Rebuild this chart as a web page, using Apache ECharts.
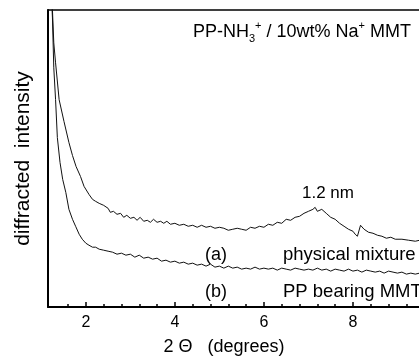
<!DOCTYPE html>
<html>
<head>
<meta charset="utf-8">
<script src="https://cdn.jsdelivr.net/npm/echarts@6/dist/echarts.min.js"></script>
<style>
html,body{margin:0;padding:0;background:#fff}
#chart{width:419px;height:358px}
</style>
</head>
<body>
<div id="chart"></div>
<script>
// 2 theta (degrees) and intensity (arb. units)
var xA = [1.22,1.25,1.28,1.32,1.40,1.51,1.62,1.70,1.78,1.88,1.96,2.07,2.15,2.22,2.30,2.40,2.50,2.55,2.62,2.70,2.78,2.85,2.92,3.00,3.08,3.15,3.22,3.30,3.38,3.45,3.52,3.60,3.68,3.75,3.82,3.90,4.00,4.10,4.20,4.30,4.40,4.50,4.60,4.70,4.80,4.90,5.00,5.10,5.20,5.30,5.40,5.50,5.60,5.70,5.80,5.90,6.00,6.10,6.20,6.30,6.40,6.50,6.60,6.70,6.80,6.90,7.00,7.10,7.15,7.20,7.30,7.40,7.50,7.60,7.70,7.80,7.90,8.00,8.05,8.10,8.17,8.25,8.35,8.45,8.55,8.65,8.75,8.85,8.95,9.10,9.25,9.40,9.50,9.60];
var yA = [330,298,265,245,208,186,165,152,141,131,121,113,108,106,104,102,99,95,96,93,94,90,92,89,90,87,90,86,87,85,88,85,86,84,86,83,84,82,83,81,82,80,82,80,81,79,80,79,77,78,79,78,77,80,79,81,80,83,82,85,84,88,87,90,91,94,96,98,100,96,98,94,90,88,84,81,78,76,73,71,82,78,75,74,72,71,69,70,68,68,67,66,67,67];

var xB = [1.22,1.25,1.28,1.32,1.36,1.42,1.48,1.55,1.62,1.70,1.77,1.85,1.92,2.00,2.07,2.15,2.22,2.30,2.40,2.50,2.60,2.70,2.80,2.90,3.00,3.10,3.20,3.30,3.40,3.50,3.60,3.70,3.80,3.90,4.00,4.10,4.20,4.30,4.40,4.50,4.60,4.70,4.80,4.90,5.00,5.10,5.20,5.30,5.40,5.50,5.60,5.70,5.80,5.90,6.00,6.10,6.20,6.30,6.40,6.50,6.60,6.70,6.80,6.90,7.00,7.10,7.20,7.30,7.40,7.50,7.60,7.70,7.80,7.90,8.00,8.10,8.20,8.30,8.40,8.50,8.60,8.70,8.80,8.90,9.00,9.10,9.20,9.30,9.40,9.50,9.60];
var yB = [320,290,240,208,170,145,128,115,98,88,81,73,68,64,62,60,60,58,57,56,55,53,54,52,53,50,52,49,50,48,49,46,47,45,46,44,45,43,44,42,43,41,43,40,41,39,41,39,40,38,39,38,40,38,39,38,39,37,39,38,37,39,38,37,38,37,39,37,38,36,38,37,36,38,36,37,35,37,36,35,36,34,36,35,34,35,33,34,33,34,34];

var majorTicks = [2,4,6,8];
var minorTicks = [1.6,2.4,2.8,3.2,3.6,4.4,4.8,5.2,5.6,6.4,6.8,7.2,7.6,8.4,8.8,9.2];

function zip(xs, ys){
  var out = [];
  for (var i = 0; i < xs.length; i++) out.push([xs[i], ys[i]]);
  return out;
}

var FONT = '"Liberation Sans", Arial, sans-serif';
var chart = echarts.init(document.getElementById('chart'), null, {renderer:'canvas'});

var option = {
  animation: false,
  grid: {
    left: 48, top: 10, bottom: 51, width: 394,
    containLabel: false, outerBoundsMode: 'none'
  },
  xAxis: [
    {
      type: 'value', min: 1.15, max: 10, position: 'bottom',
      name: '2 \u0398   (degrees)', nameLocation: 'middle', nameGap: 31,
      nameTextStyle: {fontFamily: FONT, fontSize: 18, color: '#000', padding: [0, 42, 0, 0]},
      axisLine: {show: true, lineStyle: {color: '#000', width: 2}},
      axisTick: {show: true, inside: true, length: 5, customValues: majorTicks, lineStyle: {color: '#000', width: 1.5}},
      axisLabel: {customValues: majorTicks, margin: 8, fontFamily: FONT, fontSize: 16, color: '#000'},
      splitLine: {show: false}
    },
    {
      type: 'value', min: 1.15, max: 10, position: 'bottom',
      axisLine: {show: false},
      axisTick: {show: true, inside: true, length: 3, customValues: minorTicks, lineStyle: {color: '#000', width: 1.5}},
      axisLabel: {show: false},
      splitLine: {show: false}
    },
    {
      type: 'value', min: 1.15, max: 10, position: 'top',
      axisLine: {show: true, lineStyle: {color: '#000', width: 1.5}},
      axisTick: {show: false},
      axisLabel: {show: false},
      splitLine: {show: false}
    }
  ],
  yAxis: {
    type: 'value', min: 0, max: 298,
    name: 'diffracted  intensity', nameLocation: 'middle', nameGap: 14,
    nameTextStyle: {fontFamily: FONT, fontSize: 21, color: '#000'},
    axisLine: {show: true, lineStyle: {color: '#000', width: 2}},
    axisTick: {show: false},
    axisLabel: {show: false},
    splitLine: {show: false}
  },
  series: [
    {
      type: 'line', name: 'physical mixture', data: zip(xA, yA),
      showSymbol: false, clip: true, smooth: false,
      lineStyle: {color: '#111', width: 1}
    },
    {
      type: 'line', name: 'PP bearing MMT', data: zip(xB, yB),
      showSymbol: false, clip: true, smooth: false,
      lineStyle: {color: '#111', width: 1}
    }
  ],
  graphic: [
    {
      type: 'text', left: 193, top: 20,
      style: {
        text: 'PP-NH{sub|3}{sup|+} / 10wt% Na{sup|+} MMT',
        fontFamily: FONT, fontSize: 18, lineHeight: 24, fill: '#000',
        rich: {
          sub: {fontFamily: FONT, fontSize: 11, lineHeight: 10, verticalAlign: 'bottom'},
          sup: {fontFamily: FONT, fontSize: 11, lineHeight: 12, verticalAlign: 'top'}
        }
      }
    },
    {type: 'text', left: 302, top: 185, style: {text: '1.2 nm', fontFamily: FONT, fontSize: 17, fill: '#000'}},
    {type: 'text', left: 205, top: 246, style: {text: '(a)', fontFamily: FONT, fontSize: 18, fill: '#000'}},
    {type: 'text', left: 283, top: 245, style: {text: 'physical mixture', fontFamily: FONT, fontSize: 18.5, fill: '#000'}},
    {type: 'text', left: 205, top: 283, style: {text: '(b)', fontFamily: FONT, fontSize: 18, fill: '#000'}},
    {type: 'text', left: 283, top: 282, style: {text: 'PP bearing MMT', fontFamily: FONT, fontSize: 18.5, fill: '#000'}}
  ]
};
chart.setOption(option);
</script>
</body>
</html>
